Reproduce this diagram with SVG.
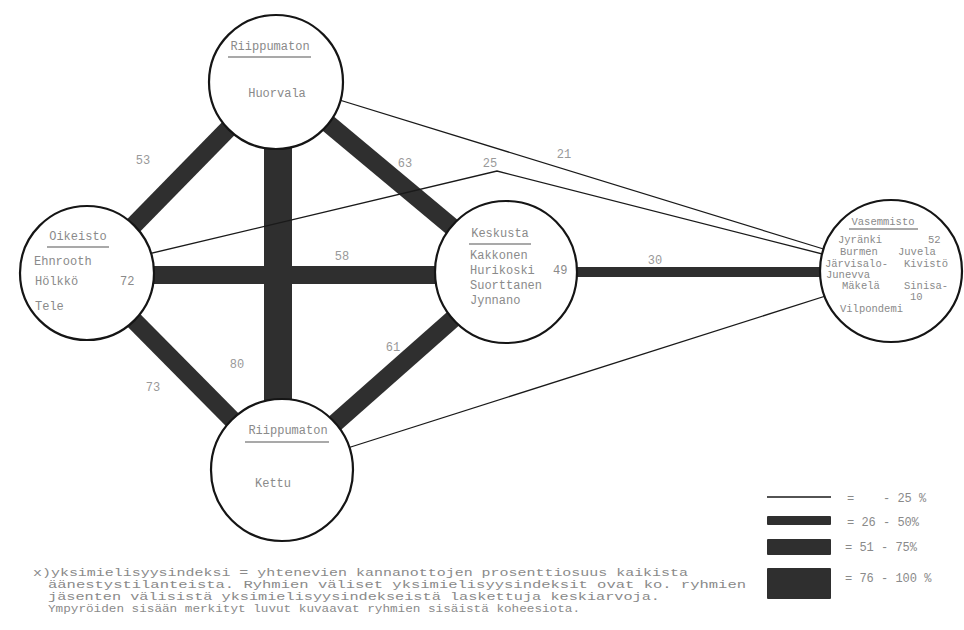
<svg xmlns="http://www.w3.org/2000/svg" width="964" height="630" viewBox="0 0 964 630">
<style>
.bg{fill:#ffffff}
.node{fill:#ffffff;stroke:#151515;stroke-width:2.2}
.band{stroke:#2f2f2f;fill:none;stroke-linecap:butt}
.w1{stroke:#1a1a1a;stroke-width:1.3;fill:none}
.w2{stroke-width:10}
.w3{stroke-width:18}
.w4{stroke-width:28}
.t{font-family:"Liberation Mono","DejaVu Sans Mono",monospace;font-size:12px;fill:#8a8a8a}
.s{font-family:"Liberation Mono","DejaVu Sans Mono",monospace;font-size:10.5px;fill:#8a8a8a}
.lab{font-family:"Liberation Mono","DejaVu Sans Mono",monospace;font-size:12px;fill:#999999}
.ul{stroke:#555555;stroke-width:1.2}
.fn{font-family:"Liberation Mono","DejaVu Sans Mono",monospace;font-size:10.5px;fill:#8a8a8a;white-space:pre}
.lgt{font-family:"Liberation Mono","DejaVu Sans Mono",monospace;font-size:12px;fill:#8a8a8a;white-space:pre}
.lg{fill:#2f2f2f}
</style>
<rect class="bg" x="0" y="0" width="964" height="630"/>

<g id="connectors">
  <!-- thick bands -->
  <line class="band w3" x1="276" y1="80" x2="87" y2="273"/>
  <line class="band w3" x1="276" y1="80" x2="506" y2="272"/>
  <line class="band w4" x1="278" y1="120" x2="278" y2="430"/>
  <line class="band w3" x1="120" y1="275" x2="470" y2="275"/>
  <line class="band w3" x1="87" y1="273" x2="282" y2="470"/>
  <line class="band w3" x1="506" y1="272" x2="282" y2="470"/>
  <line class="band w2" x1="560" y1="272" x2="840" y2="272"/>
  <!-- thin lines -->
  <line class="w1" x1="320" y1="94" x2="830" y2="251"/>
  <polyline class="w1" points="140,256 497,171 830,256"/>
  <line class="w1" x1="335" y1="452" x2="835" y2="293"/>
  <!-- edge labels -->
  <text class="lab" x="143" y="164" text-anchor="middle">53</text>
  <text class="lab" x="405" y="167" text-anchor="middle">63</text>
  <text class="lab" x="490" y="167" text-anchor="middle">25</text>
  <text class="lab" x="564" y="158" text-anchor="middle">21</text>
  <text class="lab" x="342" y="260" text-anchor="middle">58</text>
  <text class="lab" x="655" y="264" text-anchor="middle">30</text>
  <text class="lab" x="237" y="368" text-anchor="middle">80</text>
  <text class="lab" x="393" y="351" text-anchor="middle">61</text>
  <text class="lab" x="153" y="391" text-anchor="middle">73</text>
</g>

<g id="node-riippumaton-top">
  <circle class="node" cx="276" cy="82" r="67"/>
  <text class="t" x="270" y="50" text-anchor="middle">Riippumaton</text>
  <line class="ul" x1="228" y1="57" x2="311" y2="57"/>
  <text class="t" x="277" y="97" text-anchor="middle">Huorvala</text>
</g>

<g id="node-oikeisto">
  <circle class="node" cx="87" cy="273" r="67"/>
  <text class="t" x="78" y="240" text-anchor="middle">Oikeisto</text>
  <line class="ul" x1="47" y1="247" x2="109" y2="247"/>
  <text class="t" x="34" y="265">Ehnrooth</text>
  <text class="t" x="35" y="285">Hölkkö</text>
  <text class="t" x="120" y="285">72</text>
  <text class="t" x="35" y="310">Tele</text>
</g>

<g id="node-keskusta">
  <circle class="node" cx="506" cy="272" r="71"/>
  <text class="t" x="500" y="237" text-anchor="middle">Keskusta</text>
  <line class="ul" x1="469" y1="244" x2="531" y2="244"/>
  <text class="t" x="470" y="259">Kakkonen</text>
  <text class="t" x="470" y="274">Hurikoski</text>
  <text class="t" x="553" y="274">49</text>
  <text class="t" x="470" y="289">Suorttanen</text>
  <text class="t" x="470" y="304">Jynnano</text>
</g>

<g id="node-vasemmisto">
  <circle class="node" cx="891" cy="271" r="71"/>
  <text class="s" x="883" y="225" text-anchor="middle">Vasemmisto</text>
  <line class="ul" x1="849" y1="229" x2="918" y2="229"/>
  <text class="s" x="838" y="243">Jyränki</text>
  <text class="s" x="928" y="243">52</text>
  <text class="s" x="840" y="255">Burmen</text>
  <text class="s" x="898" y="255">Juvela</text>
  <text class="s" x="825" y="267">Järvisalo-</text>
  <text class="s" x="904" y="267">Kivistö</text>
  <text class="s" x="826" y="278">Junevva</text>
  <text class="s" x="842" y="289">Mäkelä</text>
  <text class="s" x="904" y="289">Sinisa-</text>
  <text class="s" x="910" y="300">10</text>
  <text class="s" x="840" y="312">Vilpondemi</text>
</g>

<g id="node-riippumaton-bottom">
  <circle class="node" cx="282" cy="470" r="71"/>
  <text class="t" x="288" y="434" text-anchor="middle">Riippumaton</text>
  <line class="ul" x1="245" y1="442" x2="329" y2="442"/>
  <text class="t" x="273" y="487" text-anchor="middle">Kettu</text>
</g>

<g id="legend">
  <line x1="767" y1="497" x2="831" y2="497" stroke="#1a1a1a" stroke-width="1.5"/>
  <text class="lgt" x="847" y="502">=    - 25 %</text>
  <rect class="lg" x="767" y="516" width="64" height="9" rx="1"/>
  <text class="lgt" x="847" y="526">= 26 - 50%</text>
  <rect class="lg" x="767" y="539" width="64" height="16" rx="1"/>
  <text class="lgt" x="845" y="551">= 51 - 75%</text>
  <rect class="lg" x="767" y="568" width="64" height="31" rx="1"/>
  <text class="lgt" x="845" y="582">= 76 - 100 %</text>
</g>

<g id="footnote">
  <text class="fn" x="33" y="576" textLength="655" lengthAdjust="spacingAndGlyphs">x)yksimielisyysindeksi = yhtenevien kannanottojen prosenttiosuus kaikista</text>
  <text class="fn" x="48" y="588" textLength="698" lengthAdjust="spacingAndGlyphs">äänestystilanteista. Ryhmien väliset yksimielisyysindeksit ovat ko. ryhmien</text>
  <text class="fn" x="48" y="600" textLength="612" lengthAdjust="spacingAndGlyphs">jäsenten välisistä yksimielisyysindekseistä laskettuja keskiarvoja.</text>
  <text class="fn" x="48" y="612" textLength="532" lengthAdjust="spacingAndGlyphs">Ympyröiden sisään merkityt luvut kuvaavat ryhmien sisäistä koheesiota.</text>
</g>
</svg>
